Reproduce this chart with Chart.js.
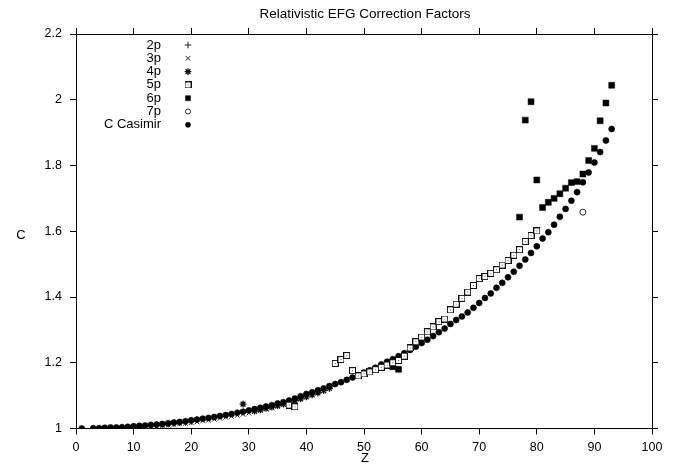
<!DOCTYPE html>
<html>
<head>
<meta charset="utf-8">
<script src="https://cdn.jsdelivr.net/npm/chart.js@4.4.1/dist/chart.umd.min.js"></script>
<style>
  html, body { margin: 0; padding: 0; background: #fff; }
  #wrap { width: 684px; height: 466px; }
</style>
</head>
<body>
<div id="wrap"><canvas id="chart" width="684" height="466"></canvas></div>
<script>
// --- DATI ---
const xTicks = [0, 10, 20, 30, 40, 50, 60, 70, 80, 90, 100];
const yTicks = [1, 1.2, 1.4, 1.6, 1.8, 2, 2.2];

const z2p = [5, 6, 7, 8, 9, 10, 11, 12, 13, 14, 15, 16, 17, 18, 19, 20];
const c2p = [1.000, 1.001, 1.001, 1.002, 1.003, 1.004, 1.005, 1.006, 1.008, 1.009, 1.011, 1.013, 1.015, 1.017, 1.019, 1.021];

const z3p = [12, 13, 14, 15, 16, 17, 18, 19, 20, 21, 22, 23, 24, 25, 26, 27, 28, 29, 30, 31, 32, 33, 34, 35, 36, 37, 38];
const c3p = [1.004, 1.005, 1.006, 1.008, 1.010, 1.012, 1.014, 1.016, 1.018, 1.020, 1.023, 1.025, 1.028, 1.031, 1.034, 1.037, 1.040, 1.043, 1.047, 1.051, 1.055, 1.059, 1.063, 1.067, 1.072, 1.077, 1.082];

const z4p = [29, 31, 32, 33, 34, 35, 36, 37, 38, 39, 40, 41, 42, 43, 44];
const c4p = [1.074, 1.053, 1.057, 1.061, 1.065, 1.070, 1.074, 1.079, 1.084, 1.090, 1.096, 1.102, 1.108, 1.115, 1.122];

const z5p = [37, 38, 45, 46, 47, 48, 49, 50, 51, 52, 53, 54, 55, 56, 57, 58, 59, 60, 61, 62, 63, 64, 65, 66, 67, 68, 69, 70, 71, 72, 73, 74, 75, 76, 77, 78, 79, 80];
const c5p = [1.071, 1.066, 1.198, 1.210, 1.222, 1.176, 1.160, 1.166, 1.172, 1.179, 1.186, 1.193, 1.200, 1.207, 1.220, 1.245, 1.264, 1.278, 1.294, 1.309, 1.325, 1.333, 1.361, 1.378, 1.396, 1.415, 1.435, 1.456, 1.462, 1.472, 1.483, 1.497, 1.511, 1.527, 1.544, 1.569, 1.587, 1.601];

const z6p = [55, 56, 77, 78, 79, 80, 81, 82, 83, 84, 85, 86, 87, 88, 89, 90, 91, 92, 93];
const c6p = [1.188, 1.180, 1.643, 1.938, 1.994, 1.756, 1.672, 1.688, 1.700, 1.714, 1.731, 1.748, 1.751, 1.774, 1.815, 1.852, 1.936, 1.990, 2.044];

const z7p = [88];
const c7p = [1.658];

const zCas = [1, 3, 4, 5, 6, 7, 8, 9, 10, 11, 12, 13, 14, 15, 16, 17, 18, 19, 20, 21, 22, 23, 24, 25, 26, 27, 28, 29, 30,
  31, 32, 33, 34, 35, 36, 37, 38, 39, 40, 41, 42, 43, 44, 45, 46, 47, 48, 49, 50, 51, 52, 53, 54, 55, 56, 57, 58, 59, 60,
  61, 62, 63, 64, 65, 66, 67, 68, 69, 70, 71, 72, 73, 74, 75, 76, 77, 78, 79, 80, 81, 82, 83, 84, 85, 86, 87, 88, 89, 90,
  91, 92, 93];
const cCas = [1.000, 1.001, 1.001, 1.002, 1.003, 1.003, 1.004, 1.005, 1.007, 1.008, 1.009, 1.011, 1.012, 1.014, 1.016, 1.018, 1.020, 1.022, 1.025,
  1.027, 1.030, 1.032, 1.035, 1.038, 1.041, 1.044, 1.048, 1.051, 1.055,
  1.059, 1.063, 1.067, 1.071, 1.076, 1.080, 1.085, 1.091, 1.098, 1.105, 1.110, 1.116, 1.122, 1.129, 1.135, 1.141, 1.148, 1.155, 1.162, 1.170,
  1.177, 1.185, 1.195, 1.203, 1.211, 1.220, 1.229, 1.239, 1.249, 1.260,
  1.270, 1.281, 1.293, 1.304, 1.318, 1.330, 1.341, 1.353, 1.367, 1.382, 1.397, 1.411, 1.428, 1.443, 1.460, 1.477, 1.495, 1.514, 1.534, 1.554,
  1.578, 1.597, 1.620, 1.644, 1.668, 1.693, 1.719, 1.749, 1.779, 1.809, 1.841, 1.876, 1.911];

const FONT = '"Liberation Sans", Arial, Helvetica, sans-serif';

// quadratino vuoto con puntino centrale (5p)
function squareDot() {
    const c = document.createElement('canvas');
    c.width = 7; c.height = 7;
    const g = c.getContext('2d');
    g.fillStyle = '#fff';
    g.fillRect(0, 0, 7, 7);
    g.strokeStyle = '#111';
    g.lineWidth = 1;
    g.strokeRect(0.5, 0.5, 6, 6);
    g.fillStyle = '#666';
    g.fillRect(3, 3, 1, 1);
    return c;
}

const pts = (zs, cs) => zs.map((z, i) => ({ x: z, y: cs[i] }));

const datasets = [
    { label: '2p', data: pts(z2p, c2p), pointStyle: 'cross', pointRadius: 3.3, borderWidth: 1, borderColor: '#222', backgroundColor: '#222', order: 2 },
    { label: '3p', data: pts(z3p, c3p), pointStyle: 'crossRot', pointRadius: 3.3, borderWidth: 1, borderColor: '#222', backgroundColor: '#222', order: 2 },
    { label: '4p', data: pts(z4p, c4p), pointStyle: 'star', pointRadius: 3.4, borderWidth: 1.3, borderColor: '#111', backgroundColor: '#111', order: 2 },
    { label: '5p', data: pts(z5p, c5p), pointStyle: squareDot(), pointRadius: 3, borderWidth: 1, borderColor: '#111', backgroundColor: '#fff', order: 0 },
    { label: '6p', data: pts(z6p, c6p), pointStyle: 'rect', pointRadius: 4.2, borderWidth: 0.5, borderColor: '#000', backgroundColor: '#000', order: 0 },
    { label: '7p', data: pts(z7p, c7p), pointStyle: 'circle', pointRadius: 3, borderWidth: 0.9, borderColor: '#111', backgroundColor: '#fff', order: 0 },
    { label: 'C Casimir', data: pts(zCas, cCas), pointStyle: 'circle', pointRadius: 3, borderWidth: 0.6, borderColor: '#000', backgroundColor: '#000', order: 1 }
];

// legenda: testo a sinistra, simbolo a destra
const legendPlugin = {
    id: 'legendTextLeft',
    afterDraw(chart) {
        const ctx = chart.ctx;
        ctx.save();
        ctx.font = '13px ' + FONT;
        ctx.textAlign = 'right';
        ctx.textBaseline = 'middle';
        chart.data.datasets.forEach((ds, i) => {
            const y = 45 + i * 13.3;
            ctx.fillStyle = '#000';
            ctx.fillText(ds.label, 161, y);
            ctx.fillStyle = ds.backgroundColor;
            ctx.strokeStyle = ds.borderColor;
            ctx.lineWidth = ds.borderWidth;
            const round = ds.pointStyle === 'circle' || ds.pointStyle === 'rect';
            const r = round ? ds.pointRadius * 0.85 : ds.pointRadius;
            Chart.helpers.drawPoint(ctx, { pointStyle: ds.pointStyle, radius: r, borderWidth: ds.borderWidth, rotation: 0 }, 188, y);
        });
        ctx.restore();
    }
};

// titolo e nomi degli assi
const labelsPlugin = {
    id: 'axisLabels',
    afterDraw(chart) {
        const ctx = chart.ctx;
        ctx.save();
        ctx.fillStyle = '#000';
        ctx.textAlign = 'center';
        ctx.textBaseline = 'middle';
        ctx.font = '13.5px ' + FONT;
        ctx.fillText('Relativistic EFG Correction Factors', 365, 14);
        ctx.font = '13px ' + FONT;
        ctx.fillText('Z', 365, 458);
        ctx.fillText('C', 21, 235);
        ctx.restore();
    }
};

const axisGrid = { drawOnChartArea: false, color: '#000', tickLength: 6, lineWidth: 1 };
const axisBorder = { color: '#000', width: 1 };
const tickFont = { family: FONT, size: 12.5 };

new Chart(document.getElementById('chart'), {
    type: 'scatter',
    data: { datasets },
    options: {
        responsive: false,
        animation: false,
        devicePixelRatio: 1,
        layout: { padding: 0 },
        plugins: { legend: { display: false }, tooltip: { enabled: false }, title: { display: false } },
        scales: {
            x: {
                type: 'linear', position: 'bottom', min: 0, max: 100,
                afterBuildTicks: s => { s.ticks = xTicks.map(v => ({ value: v })); },
                ticks: { color: '#000', font: tickFont, padding: 6, maxRotation: 0, autoSkip: false },
                grid: axisGrid, border: axisBorder,
                afterFit: s => { s.height = 37.5; }
            },
            xTop: {
                type: 'linear', position: 'top', min: 0, max: 100,
                afterBuildTicks: s => { s.ticks = xTicks.map(v => ({ value: v })); },
                ticks: { display: false },
                grid: axisGrid, border: axisBorder,
                afterFit: s => { s.height = 34; }
            },
            y: {
                type: 'linear', position: 'left', min: 1, max: 2.2,
                afterBuildTicks: s => { s.ticks = yTicks.map(v => ({ value: v })); },
                ticks: { color: '#000', font: tickFont, padding: 8, callback: v => String(Math.round(v * 10) / 10) },
                grid: axisGrid, border: axisBorder,
                afterFit: s => { s.width = 76; }
            },
            yRight: {
                type: 'linear', position: 'right', min: 1, max: 2.2,
                afterBuildTicks: s => { s.ticks = yTicks.map(v => ({ value: v })); },
                ticks: { display: false },
                grid: axisGrid, border: axisBorder,
                afterFit: s => { s.width = 32; }
            }
        }
    },
    plugins: [legendPlugin, labelsPlugin]
});
</script>
</body>
</html>
